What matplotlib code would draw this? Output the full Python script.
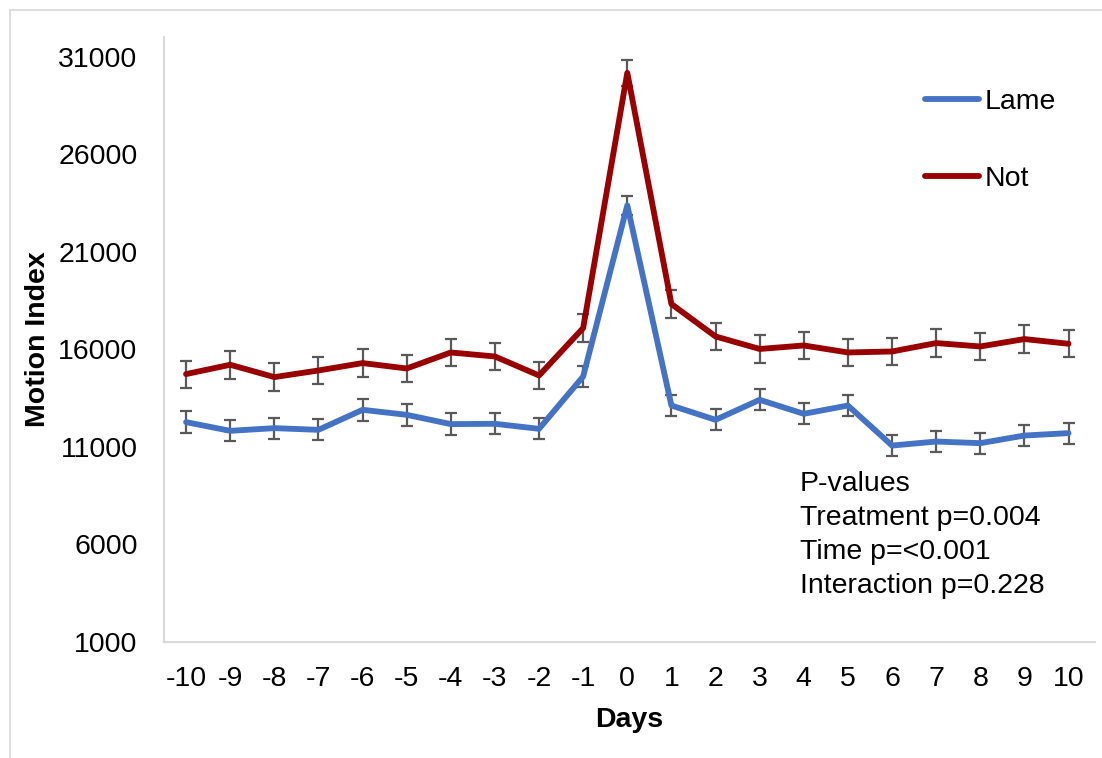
import matplotlib
matplotlib.use("Agg")
import matplotlib.pyplot as plt
from matplotlib.lines import Line2D

plt.rcParams["font.family"] = ["Liberation Sans", "DejaVu Sans"]

# Daily motion index, mean +/- SE, around day 0
days = list(range(-10, 11))
lame = [12266, 11820, 11958, 11871, 12897, 12641, 12164, 12180, 11923, 14605,
        23373, 13117, 12384, 13410, 12692, 13117, 11066, 11271, 11189, 11579, 11702]
lame_err = [545, 545, 540, 545, 555, 550, 545, 545, 540, 555,
            480, 540, 540, 545, 540, 545, 545, 545, 545, 545, 545]
not_lame = [14728, 15205, 14574, 14912, 15292, 15015, 15835, 15630, 14656, 17087,
            30163, 18317, 16656, 16015, 16194, 15835, 15886, 16317, 16143, 16523, 16281]
not_err = [690, 715, 710, 715, 700, 705, 710, 700, 710, 710,
           650, 715, 710, 700, 690, 700, 710, 700, 710, 700, 700]

y_ticks = [1000, 6000, 11000, 16000, 21000, 26000, 31000]
p_lines = ["P-values", "Treatment p=0.004", "Time p=<0.001", "Interaction p=0.228"]

BLUE = "#4472C4"
RED = "#990000"
GREY = "#595959"
FS = 20.5

W, H = 1102, 758
fig = plt.figure(figsize=(W / 100, H / 100), dpi=100)
ax = fig.add_axes([164 / W, 1 - 642 / H, (1095 - 164) / W, (642 - 37) / H])

# error bars first, lines over them
ax.errorbar(days, lame, yerr=lame_err, fmt="none", ecolor=GREY, elinewidth=1.6,
            capsize=4.5, capthick=1.6, zorder=2)
ax.errorbar(days, not_lame, yerr=not_err, fmt="none", ecolor=GREY, elinewidth=1.6,
            capsize=4.5, capthick=1.6, zorder=2)
ax.plot(days, lame, color=BLUE, lw=4.2, solid_joinstyle="round",
        solid_capstyle="round", label="Lame", zorder=3)
ax.plot(days, not_lame, color=RED, lw=4.2, solid_joinstyle="round",
        solid_capstyle="round", label="Not", zorder=3)

ax.set_xlim(-10.5, 10.6)
ax.set_ylim(1000, 32000)
ax.set_xticks(days)
ax.set_xticklabels([str(d) for d in days])
ax.set_yticks(y_ticks)
ax.tick_params(axis="both", length=0, labelsize=FS)
ax.tick_params(axis="x", pad=17)
ax.tick_params(axis="y", pad=19)

for side in ("top", "right"):
    ax.spines[side].set_visible(False)
for side in ("left", "bottom"):
    ax.spines[side].set_color("#d9d9d9")
    ax.spines[side].set_linewidth(1.5)

ax.set_xlabel("Days", fontsize=FS, fontweight="bold", labelpad=11)
ax.set_ylabel("Motion Index", fontsize=FS, fontweight="bold", labelpad=5)

leg = ax.legend(loc="upper left", bbox_to_anchor=((925 - 164) / (1095 - 164), 1 - (89 - 37) / (642 - 37)),
                frameon=False, fontsize=FS, handlelength=1.9, handletextpad=0.2,
                labelspacing=1.8, borderaxespad=0, borderpad=0)

for i, line in enumerate(p_lines):
    fig.text(800 / W, 1 - (484 + 34 * i) / H, line, fontsize=FS, ha="left", va="center")

# light chart-area border on the left and top
border = dict(color="#d9d9d9", lw=1.2, transform=fig.transFigure)
fig.add_artist(Line2D([10 / W, 10 / W], [0, 1 - 10 / H], **border))
fig.add_artist(Line2D([10 / W, 1], [1 - 10 / H, 1 - 10 / H], **border))

fig.savefig("out.png", dpi=100)
